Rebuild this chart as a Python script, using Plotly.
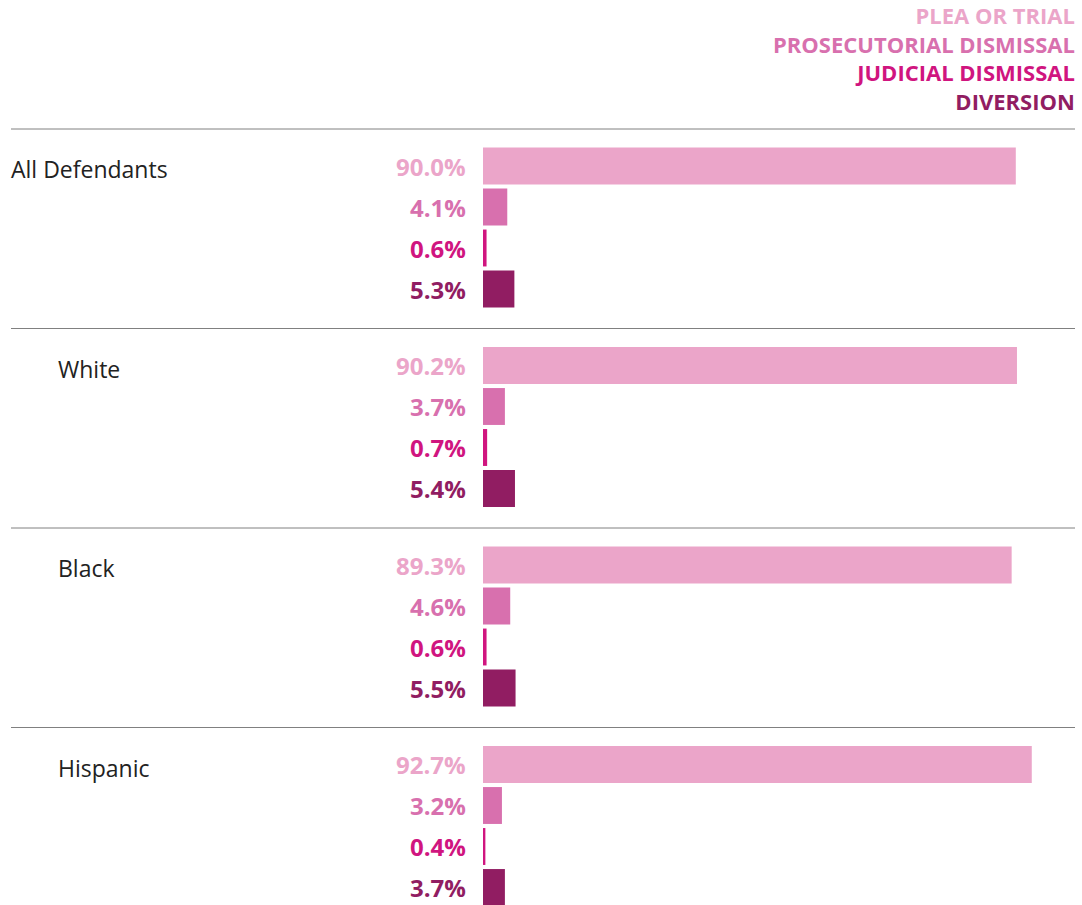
import plotly.graph_objects as go

groups = ["All Defendants", "White", "Black", "Hispanic"]
indent = [False, True, True, True]
outcomes = ["PLEA OR TRIAL", "PROSECUTORIAL DISMISSAL", "JUDICIAL DISMISSAL", "DIVERSION"]
plea = [90.0, 90.2, 89.3, 92.7]
prosecutorial = [4.1, 3.7, 4.6, 3.2]
judicial = [0.6, 0.7, 0.6, 0.4]
diversion = [5.3, 5.4, 5.5, 3.7]
colors = ["#EBA5C9", "#D870AE", "#D0157F", "#911D62"]

series = [plea, prosecutorial, judicial, diversion]

W, H = 1082, 905
L_MARGIN, R_MARGIN = 483, 7
PLOT_W = W - L_MARGIN - R_MARGIN
SLOT_PX = 41.0
GROUP_STRIDE = 199.5 / SLOT_PX
FIRST_PX = 166.0
Y_TOP = -FIRST_PX / SLOT_PX
Y_BOT = (H - FIRST_PX) / SLOT_PX
FONT = "Open Sans"

fig = go.Figure()
annotations = []
shapes = []
for k, (name, vals, col) in enumerate(zip(outcomes, series, colors)):
    ys = [g * GROUP_STRIDE + k for g in range(len(groups))]
    fig.add_trace(go.Bar(
        x=vals, y=ys, orientation="h", name=name,
        marker=dict(color=col, line=dict(width=0)),
        width=0.9, showlegend=False, hoverinfo="x",
    ))
    for v, y in zip(vals, ys):
        annotations.append(dict(
            x=0, y=y, xref="x", yref="y", text=f"<b>{v:.1f}%</b>",
            showarrow=False, xanchor="right", yanchor="middle", xshift=-15,
            font=dict(family=FONT, size=24, color=col),
        ))

label_x0 = -(L_MARGIN - 11) / PLOT_W
label_x1 = -(L_MARGIN - 58) / PLOT_W
for g, (name, ind) in enumerate(zip(groups, indent)):
    y0 = g * GROUP_STRIDE
    annotations.append(dict(
        x=label_x1 if ind else label_x0, y=y0 + 3 / SLOT_PX, xref="paper", yref="y",
        text=name, showarrow=False, xanchor="left", yanchor="middle", xshift=-2,
        font=dict(family=FONT, size=23, color="#222222"),
    ))
    ly = y0 - 37 / SLOT_PX
    shapes.append(dict(type="line", xref="paper", yref="y",
                       x0=label_x0, x1=1.0, y0=ly, y1=ly,
                       line=dict(color="#808080", width=1)))

# legend as one right-aligned block of coloured lines
legend_text = "<br>".join(
    f"<span style='color:{c}'><b>{n}</b></span>" for n, c in zip(outcomes, colors)
)
annotations.append(dict(
    x=1.0, y=Y_TOP + 58 / SLOT_PX, xref="paper", yref="y",
    text=legend_text, showarrow=False, xanchor="right", yanchor="middle", align="right",
    xshift=2, font=dict(family=FONT, size=22, color=colors[0]),
))

fig.update_layout(
    width=W, height=H,
    margin=dict(l=L_MARGIN, r=R_MARGIN, t=0, b=0),
    paper_bgcolor="white", plot_bgcolor="white",
    barmode="overlay",
    xaxis=dict(range=[0, 100], visible=False, fixedrange=True),
    yaxis=dict(range=[Y_BOT, Y_TOP], visible=False, fixedrange=True),
    annotations=annotations, shapes=shapes,
)
fig.write_html("out.html", config={"displayModeBar": False},
               post_script="document.body.style.margin='0';document.body.style.overflow='hidden';")
